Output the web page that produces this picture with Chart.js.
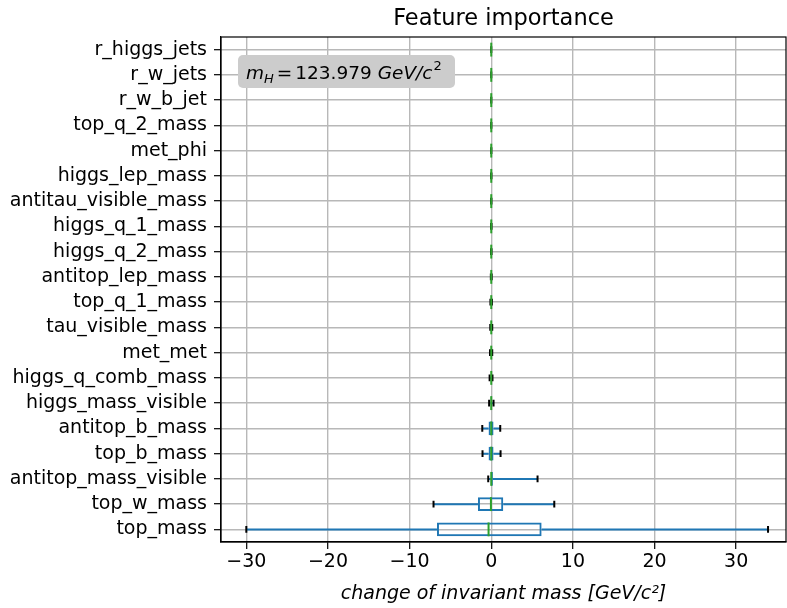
<!DOCTYPE html>
<html>
<head>
<meta charset="utf-8">
<script src="https://cdn.jsdelivr.net/npm/chart.js@4.4.1/dist/chart.umd.min.js"></script>
<style>
  html, body { margin: 0; padding: 0; background: #fff; }
  #wrap { width: 787px; height: 608px; }
</style>
</head>
<body>
<div id="wrap"><canvas id="fiChart" width="787" height="608"></canvas></div>
<script>
// Datos (de arriba a abajo)
const features = [
  "r_higgs_jets", "r_w_jets", "r_w_b_jet", "top_q_2_mass", "met_phi",
  "higgs_lep_mass", "antitau_visible_mass", "higgs_q_1_mass", "higgs_q_2_mass",
  "antitop_lep_mass", "top_q_1_mass", "tau_visible_mass", "met_met",
  "higgs_q_comb_mass", "higgs_mass_visible", "antitop_b_mass", "top_b_mass",
  "antitop_mass_visible", "top_w_mass", "top_mass"
];
const whiskerLow  = [0, 0, -0.005, -0.01, -0.01, -0.02, -0.02, -0.03, -0.03, -0.05, -0.1, -0.12, -0.15, -0.2, -0.26, -1.1, -1.07, -0.37, -7.07, -30.0];
const q1          = [0, 0, 0, 0, 0, -0.005, -0.005, -0.01, -0.01, -0.01, -0.02, -0.03, -0.03, -0.04, -0.08, -0.33, -0.33, -0.05, -1.63, -6.65];
const median      = [0, 0, 0, 0, 0, 0, 0, 0, 0, 0, 0, 0, 0, 0, 0, 0, 0, 0, -0.04, -0.33];
const q3          = [0, 0, 0, 0, 0, 0.005, 0.005, 0.01, 0.01, 0.01, 0.02, 0.03, 0.03, 0.04, 0.08, 0.28, 0.28, 0.2, 1.47, 6.17];
const whiskerHigh = [0, 0, 0.005, 0.01, 0.01, 0.02, 0.02, 0.03, 0.03, 0.05, 0.08, 0.12, 0.12, 0.15, 0.28, 1.1, 1.14, 5.67, 7.72, 33.9];
const xTicks = [-30, -20, -10, 0, 10, 20, 30];
const massH = "123.979";
const chartTitle = "Feature importance";

const BLUE = "#1f77b4";
const GREEN = "#2ca02c";
const BOX_W = 0.55; // ancho de la caja en unidades de categoría

// Plugin para bigotes, medianas, marco, título y la anotación
const boxplotExtras = {
  id: "boxplotExtras",
  afterDatasetsDraw(chart) {
    const ctx = chart.ctx;
    const xs = chart.scales.x;
    const ys = chart.scales.y;
    const step = Math.abs(ys.getPixelForValue(1) - ys.getPixelForValue(0));
    ctx.save();
    features.forEach((name, i) => {
      const yc = ys.getPixelForValue(i);
      const xlo = xs.getPixelForValue(whiskerLow[i]);
      const xq1 = xs.getPixelForValue(q1[i]);
      const xq3 = xs.getPixelForValue(q3[i]);
      const xhi = xs.getPixelForValue(whiskerHigh[i]);
      // bigotes
      ctx.strokeStyle = BLUE;
      ctx.lineWidth = 2;
      ctx.beginPath();
      ctx.moveTo(xlo, yc); ctx.lineTo(xq1, yc);
      ctx.moveTo(xq3, yc); ctx.lineTo(xhi, yc);
      ctx.stroke();
      // topes
      const capH = step * BOX_W / 2;
      ctx.strokeStyle = "#000";
      ctx.lineWidth = 2;
      ctx.beginPath();
      ctx.moveTo(xlo, yc - capH / 2); ctx.lineTo(xlo, yc + capH / 2);
      ctx.moveTo(xhi, yc - capH / 2); ctx.lineTo(xhi, yc + capH / 2);
      ctx.stroke();
      // mediana
      const xm = xs.getPixelForValue(median[i]);
      const bh = step * BOX_W;
      ctx.strokeStyle = GREEN;
      ctx.lineWidth = 2;
      ctx.beginPath();
      ctx.moveTo(xm, yc - bh / 2); ctx.lineTo(xm, yc + bh / 2);
      ctx.stroke();
    });

    const a = chart.chartArea;
    // marco superior y derecho
    ctx.strokeStyle = "#000";
    ctx.lineWidth = 1.2;
    ctx.strokeRect(a.left, a.top, a.right - a.left, a.bottom - a.top);

    // título centrado sobre los ejes
    ctx.fillStyle = "#000";
    ctx.font = "22.5px 'DejaVu Sans'";
    ctx.textAlign = "center";
    ctx.textBaseline = "middle";
    ctx.fillText(chartTitle, (a.left + a.right) / 2, 19);

    // anotación m_H
    const bx = a.left + 17, by = a.top + 18, bw = 217, bhh = 33;
    ctx.fillStyle = "#cccccc";
    ctx.beginPath();
    ctx.roundRect(bx, by, bw, bhh, 5);
    ctx.fill();
    ctx.fillStyle = "#000";
    ctx.textBaseline = "alphabetic";
    ctx.textAlign = "left";
    const base = by + 24;
    let x = bx + 8;
    const it = "italic 18.5px 'DejaVu Sans'";
    const rm = "18.5px 'DejaVu Sans'";
    const sm = "italic 13px 'DejaVu Sans'";
    const smr = "13px 'DejaVu Sans'";
    ctx.font = it; ctx.fillText("m", x, base); x += ctx.measureText("m").width;
    ctx.font = sm; ctx.fillText("H", x, base + 4); x += ctx.measureText("H").width + 3;
    ctx.font = rm; ctx.fillText("=", x, base); x += ctx.measureText("=").width + 3;
    ctx.fillText(massH + " ", x, base); x += ctx.measureText(massH + " ").width;
    ctx.font = it; ctx.fillText("GeV/c", x, base); x += ctx.measureText("GeV/c").width + 1;
    ctx.font = smr; ctx.fillText("2", x, base - 9);
    ctx.restore();
  }
};

const ctx = document.getElementById("fiChart").getContext("2d");
new Chart(ctx, {
  type: "bar",
  data: {
    labels: features,
    datasets: [{
      label: "IQR",
      data: features.map((f, i) => [q1[i], q3[i]]),
      backgroundColor: "rgba(0,0,0,0)",
      borderColor: BLUE,
      borderWidth: 2,
      borderSkipped: false,
      categoryPercentage: 1.0,
      barPercentage: BOX_W
    }]
  },
  options: {
    indexAxis: "y",
    responsive: false,
    animation: false,
    devicePixelRatio: 1,
    layout: { padding: { top: 37, right: 1, left: 0, bottom: 0 } },
    plugins: {
      legend: { display: false },
      tooltip: { enabled: false },
      title: { display: false }
    },
    scales: {
      x: {
        type: "linear",
        min: -33.1,
        max: 36.1,
        afterBuildTicks: (scale) => { scale.ticks = xTicks.map(v => ({ value: v })); },
        afterFit: (scale) => { scale.height = 66; },
        ticks: {
          color: "#000",
          font: { family: "DejaVu Sans", size: 19 },
          padding: 2,
          maxRotation: 0,
          callback: (v) => (v < 0 ? "\u2212" + Math.abs(v) : String(v))
        },
        grid: { color: "#b8b8b8", lineWidth: 1.4, tickLength: 7, tickColor: "#000", tickWidth: 1.2 },
        border: { display: true, color: "#000", width: 1.2 },
        title: {
          display: true,
          text: "change of invariant mass [GeV/c\u00b2]",
          color: "#000",
          font: { family: "DejaVu Sans", size: 19, style: "italic" },
          padding: { top: 2, bottom: 3 }
        }
      },
      y: {
        type: "category",
        afterFit: (scale) => { scale.width = 221; },
        ticks: {
          color: "#000",
          font: { family: "DejaVu Sans", size: 19 },
          padding: 7,
          autoSkip: false
        },
        grid: { offset: false, color: "#b8b8b8", lineWidth: 1.4, tickLength: 7, tickColor: "#000", tickWidth: 1.2 },
        border: { display: true, color: "#000", width: 1.2 }
      }
    }
  },
  plugins: [boxplotExtras]
});
</script>
</body>
</html>
